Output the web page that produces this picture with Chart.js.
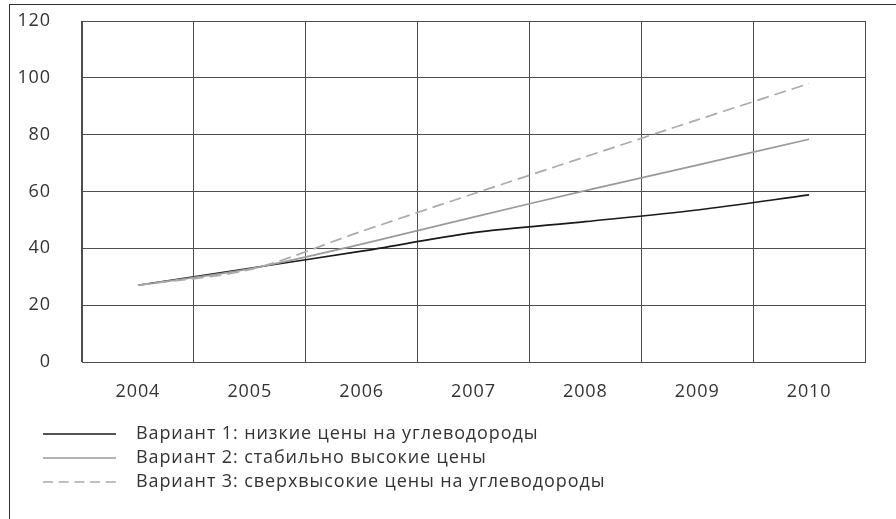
<!DOCTYPE html>
<html lang="ru">
<head>
<meta charset="utf-8">
<script src="https://cdn.jsdelivr.net/npm/chart.js@4/dist/chart.umd.min.js"></script>
<style>
  html, body { margin: 0; padding: 0; background: #fff; }
  #wrap { position: relative; width: 896px; height: 519px; overflow: hidden; }
  #frame {
    position: absolute; left: 9px; top: 4px; width: 900px; height: 530px;
    border-top: 1px solid #333; border-left: 1px solid #333; pointer-events: none;
  }
  canvas { position: absolute; left: 0; top: 0; }
</style>
</head>
<body>
<div id="wrap">
  <div id="frame"></div>
  <canvas id="chart" width="896" height="519"></canvas>
</div>
<script>
/* Прогноз по трём вариантам, 2004–2010 */

const years = ["2004", "2005", "2006", "2007", "2008", "2009", "2010"];
const variant1 = [27, 33, 39, 45.5, 49.4, 53.5, 58.8];
const variant2 = [27, 32.8, 41.5, 51, 60.3, 69.3, 78.4];
const variant3 = [27, 32.5, 46, 59.2, 72.2, 85.2, 98];
const seriesNames = [
  "Вариант 1: низкие цены на углеводороды",
  "Вариант 2: стабильно высокие цены",
  "Вариант 3: сверхвысокие цены на углеводороды",
];
const yTicks = [0, 20, 40, 60, 80, 100, 120];

const FONT = "'Open Sans', 'Noto Sans', sans-serif";
const SIZE = 18;
const SPACING = "0.9px";
const GRID = "#4d4d4d";
const TEXT = "#333";

// legend sample: 22px blank, 73px of line, then the gap before the text
function sample(color, width, dash) {
  const c = document.createElement("canvas");
  c.width = 106;
  c.height = 4;
  const g = c.getContext("2d");
  g.strokeStyle = color;
  g.lineWidth = width;
  g.setLineDash(dash);
  g.beginPath();
  g.moveTo(22, 2);
  g.lineTo(95, 2);
  g.stroke();
  return c;
}

const styles = [
  { color: "#1a1a1a", width: 1.7, dash: [], legendDash: [], order: 3 },
  { color: "#9a9a9a", width: 1.7, dash: [], legendDash: [], order: 2 },
  { color: "#ababab", width: 1.7, dash: [12, 6], legendDash: [10, 5.7], order: 1 },
];
const samples = styles.map((s) => sample(s.color, s.width, s.legendDash));

const datasets = [variant1, variant2, variant3].map((data, i) => ({
  label: seriesNames[i],
  data,
  borderColor: styles[i].color,
  backgroundColor: styles[i].color,
  borderWidth: styles[i].width,
  borderDash: styles[i].dash,
  pointRadius: 0,
  tension: 0.3,
  fill: false,
  order: styles[i].order,
}));

// the source typeface is set a little looser than Open Sans
const tracking = {
  id: "tracking",
  beforeLayout: (chart) => { chart.ctx.letterSpacing = SPACING; },
  beforeDraw: (chart) => { chart.ctx.letterSpacing = SPACING; },
};

new Chart(document.getElementById("chart"), {
  type: "line",
  data: { labels: years, datasets },
  plugins: [tracking],
  options: {
    responsive: false,
    animation: false,
    devicePixelRatio: 1,
    layout: { padding: { left: 15, right: 31, top: 21, bottom: 18 } },
    plugins: {
      tooltip: { enabled: false },
      legend: {
        position: "bottom",
        align: "start",
        labels: {
          usePointStyle: true,
          pointStyleWidth: 106,
          padding: 6,
          color: TEXT,
          font: { family: FONT, size: SIZE },
          generateLabels: (chart) =>
            chart.data.datasets.map((ds, i) => ({
              text: ds.label,
              fillStyle: ds.borderColor,
              strokeStyle: ds.borderColor,
              lineWidth: 0,
              pointStyle: samples[i],
              fontColor: TEXT,
              hidden: false,
              datasetIndex: i,
            })),
        },
      },
    },
    scales: {
      x: {
        offset: true,
        grid: { offset: true, color: GRID, lineWidth: 1, drawTicks: false },
        border: { color: GRID, width: 1 },
        ticks: { color: TEXT, font: { family: FONT, size: SIZE }, padding: 19, maxRotation: 0 },
        afterFit: (s) => { s.height = 57; },
      },
      y: {
        min: 0,
        max: 120,
        grid: { color: GRID, lineWidth: 1, drawTicks: false },
        border: { color: GRID, width: 1 },
        ticks: {
          color: TEXT,
          font: { family: FONT, size: SIZE },
          padding: 31,
          stepSize: 20,
          callback: (v) => (yTicks.includes(v) ? String(v) : ""),
        },
        afterFit: (s) => {
          s.width = 67;
          s.paddingTop = 0;
          s.paddingBottom = 0;
        },
      },
    },
  },
});
</script>
</body>
</html>
